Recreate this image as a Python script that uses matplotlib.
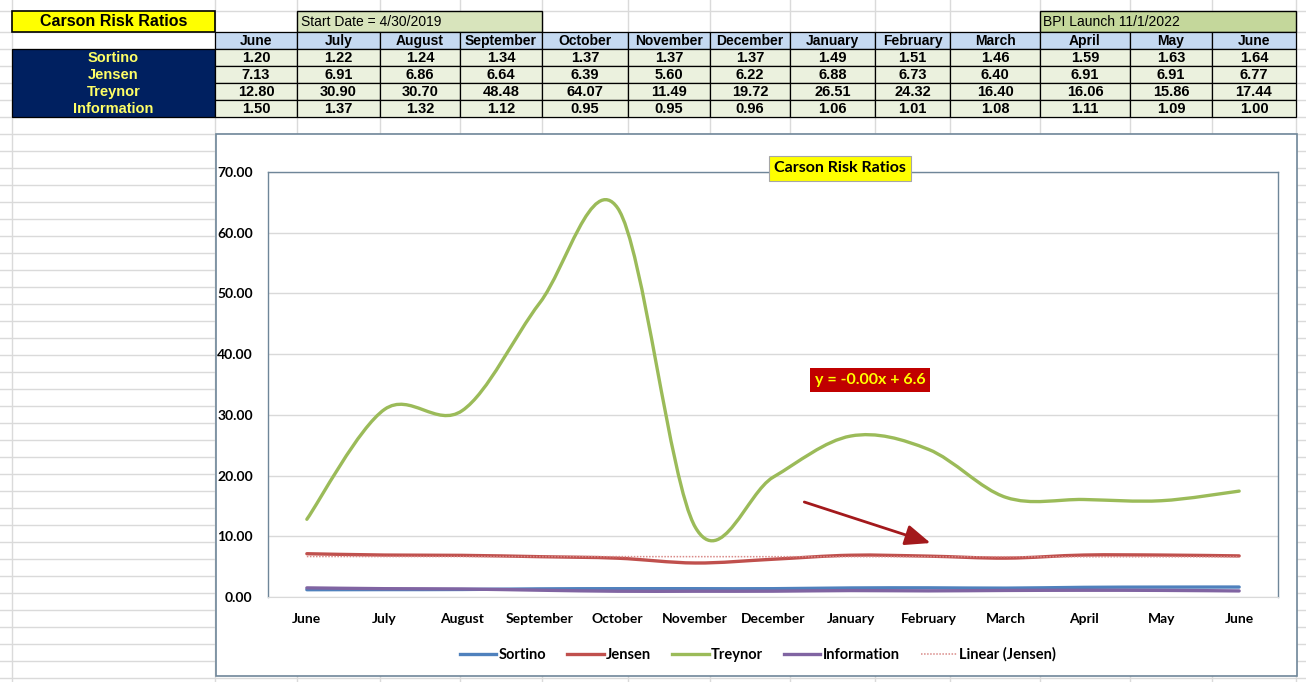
import numpy as np
import matplotlib.pyplot as plt
from matplotlib.patches import Rectangle, PathPatch
from matplotlib.path import Path
from matplotlib.lines import Line2D

# --- Data (Carson risk ratios, June 2019 .. June 2020) ---
months = ["June", "July", "August", "September", "October", "November",
          "December", "January", "February", "March", "April", "May", "June"]
sortino = [1.20, 1.22, 1.24, 1.34, 1.37, 1.37, 1.37, 1.49, 1.51, 1.46, 1.59, 1.63, 1.64]
jensen = [7.13, 6.91, 6.86, 6.64, 6.39, 5.60, 6.22, 6.88, 6.73, 6.40, 6.91, 6.91, 6.77]
treynor = [12.80, 30.90, 30.70, 48.48, 64.07, 11.49, 19.72, 26.51, 24.32, 16.40, 16.06, 15.86, 17.44]
information = [1.50, 1.37, 1.32, 1.12, 0.95, 0.95, 0.96, 1.06, 1.01, 1.08, 1.11, 1.09, 1.00]
ratio_names = ["Sortino", "Jensen", "Treynor", "Information"]
ratio_rows = [sortino, jensen, treynor, information]
trend_label = "y = -0.00x + 6.6"

# --- Colours ---
blue = "#4F81BD"
red = "#C0504D"
green = "#9BBB59"
purple = "#8064A2"
frame = "#6F8699"
cellgrid = "#DADADA"

narrow = ["Liberation Sans Narrow", "Liberation Sans", "DejaVu Sans"]
chartfont = ["Lato", "DejaVu Sans"]

W, H = 1306, 682
fig = plt.figure(figsize=(W / 100, H / 100), dpi=100)
fig.patch.set_facecolor("white")

# =====================================================
# Spreadsheet background (pixel coordinates)
# =====================================================
bg = fig.add_axes([0, 0, 1, 1])
bg.set_xlim(0, W)
bg.set_ylim(H, 0)
bg.axis("off")

col_edges = [12, 215, 297, 380, 460, 542, 628, 710, 790, 875, 950, 1040, 1130, 1212, 1296]
row_edges = [11] + list(np.arange(31.7, H + 17, 17))

for xc in col_edges:
    bg.plot([xc, xc], [0, H], color=cellgrid, lw=1, zorder=0)
for yr in row_edges:
    bg.plot([0, W], [yr, yr], color=cellgrid, lw=1, zorder=0)

r1, r2 = 11, row_edges[1]
rh = 17

# title cell
bg.add_patch(Rectangle((12, r1), 203, r2 - r1, fc="#FFFF00", ec="black", lw=1.2, zorder=2))
bg.text((12 + 215) / 2, (r1 + r2) / 2 + 0.5, "Carson Risk Ratios", ha="center", va="center",
        fontsize=11.5, fontweight="bold", family=["Liberation Sans", "DejaVu Sans"], zorder=3)

# start date / launch cells
bg.add_patch(Rectangle((297, r1), 245, r2 - r1, fc="#D8E4BC", ec="black", lw=1.0, zorder=2))
bg.text(301, (r1 + r2) / 2 + 0.5, "Start Date = 4/30/2019", ha="left", va="center",
        fontsize=10, family=narrow, zorder=3)
bg.add_patch(Rectangle((1040, r1), 256, r2 - r1, fc="#C4D79B", ec="black", lw=1.0, zorder=2))
bg.text(1043, (r1 + r2) / 2 + 0.5, "BPI Launch 11/1/2022", ha="left", va="center",
        fontsize=10, family=narrow, zorder=3)

# header row with month names
for i, m in enumerate(months):
    x0, x1 = col_edges[i + 1], col_edges[i + 2]
    bg.add_patch(Rectangle((x0, r2), x1 - x0, rh, fc="#C5D9F1", ec="black", lw=0.9, zorder=2))
    bg.text((x0 + x1) / 2, r2 + rh / 2 + 0.5, m, ha="center", va="center",
            fontsize=10, fontweight="bold", family=narrow, zorder=3)

# ratio rows
top = r2 + rh
bg.add_patch(Rectangle((12, top), 203, rh * 4, fc="#002060", ec="black", lw=0.9, zorder=2))
for j, (name, vals) in enumerate(zip(ratio_names, ratio_rows)):
    yy = top + j * rh
    bg.text((12 + 215) / 2, yy + rh / 2 + 0.5, name, ha="center", va="center", color="#FFFF66",
            fontsize=10.5, fontweight="bold", family=narrow, zorder=3)
    for i, v in enumerate(vals):
        x0, x1 = col_edges[i + 1], col_edges[i + 2]
        bg.add_patch(Rectangle((x0, yy), x1 - x0, rh, fc="#EBF1DE", ec="black", lw=0.9, zorder=2))
        bg.text((x0 + x1) / 2, yy + rh / 2 + 0.5, f"{v:.2f}", ha="center", va="center",
                fontsize=10.5, fontweight="bold", family=narrow, zorder=3)

# chart area frame
bg.add_patch(Rectangle((216, 134), 1297 - 216, 676 - 134, fc="white", ec=frame, lw=1.2, zorder=4))

# =====================================================
# Chart
# =====================================================
px_l, px_r, px_t, px_b = 268, 1278, 172, 597
ax = fig.add_axes([px_l / W, (H - px_b) / H, (px_r - px_l) / W, (px_b - px_t) / H])
ax.set_zorder(5)
ax.set_facecolor("white")

x = np.arange(len(months))


def smooth_path(xs, ys):
    # Excel style smoothed line: Catmull-Rom segments as cubic Beziers
    pts = np.column_stack([xs, ys]).astype(float)
    n = len(pts)
    verts = [pts[0]]
    codes = [Path.MOVETO]
    for i in range(n - 1):
        p0 = pts[i - 1] if i > 0 else pts[i]
        p1, p2 = pts[i], pts[i + 1]
        p3 = pts[i + 2] if i + 2 < n else pts[i + 1]
        verts += [p1 + (p2 - p0) / 6, p2 - (p3 - p1) / 6, p2]
        codes += [Path.CURVE4] * 3
    return Path(verts, codes)


series = [(sortino, blue), (jensen, red), (treynor, green), (information, purple)]
for vals, c in series:
    ax.add_patch(PathPatch(smooth_path(x, vals), fc="none", ec=c, lw=2.4,
                           capstyle="round", joinstyle="round", zorder=3))

# linear trendline of Jensen
k, b = np.polyfit(x + 1, jensen, 1)
ax.plot(x, k * (x + 1) + b, color="#D98A88", lw=1.1, ls=(0, (1, 1)), zorder=4)

ax.set_xlim(-0.5, len(months) - 0.5)
ax.set_ylim(0, 70)
ax.set_yticks(np.arange(0, 71, 10))
ax.set_yticklabels([f"{v:.2f}" for v in np.arange(0, 71, 10)])
ax.set_xticks(x)
ax.set_xticklabels(months)
ax.tick_params(length=0)
ax.tick_params(axis="y", pad=11)
ax.tick_params(axis="x", pad=11.5)
for lab in ax.get_xticklabels() + ax.get_yticklabels():
    lab.set_fontfamily(chartfont)
    lab.set_fontweight("bold")
    lab.set_fontsize(10)
ax.set_axisbelow(True)
ax.yaxis.grid(True, color="#D9D9D9", lw=1)
for s in ["top", "left", "right"]:
    ax.spines[s].set_color(frame)
    ax.spines[s].set_linewidth(1.0)
ax.spines["bottom"].set_color("#D9D9D9")

# chart title
fig.text(840 / W, 1 - 168.5 / H, "Carson Risk Ratios", ha="center", va="center",
         fontsize=11.5, fontweight="bold", family=chartfont, zorder=10,
         bbox=dict(boxstyle="square,pad=0.32", fc="#FFFF00", ec="#A6A6A6", lw=0.8))

# trend equation and arrow
ax.text(0.596, 0.511, trend_label,
        transform=ax.transAxes, ha="center", va="center", color="#FFFF00",
        fontsize=11.5, fontweight="bold", family=chartfont, zorder=6,
        bbox=dict(boxstyle="square,pad=0.32", fc="#C00000", ec="none"))
ax.annotate("", xy=(0.656, 0.127), xytext=(0.531, 0.2235),
            xycoords="axes fraction", textcoords="axes fraction",
            arrowprops=dict(arrowstyle="-|>,head_length=1.1,head_width=0.45",
                            mutation_scale=14, color="#A3191C", lw=2, shrinkA=0, shrinkB=0))

# legend
handles = [Line2D([], [], color=blue, lw=2.4),
           Line2D([], [], color=red, lw=2.4),
           Line2D([], [], color=green, lw=2.4),
           Line2D([], [], color=purple, lw=2.4),
           Line2D([], [], color="#D98A88", lw=1.1, ls=(0, (1, 1)))]
labels = ratio_names + ["Linear (Jensen)"]
leg = fig.legend(handles, labels, loc="center", bbox_to_anchor=(758 / W, 1 - 654.5 / H),
                 ncol=5, frameon=False, handlelength=2.5, handletextpad=0.15,
                 columnspacing=1.45, prop={"family": chartfont, "weight": "bold", "size": 10.5})
leg.set_zorder(10)

plt.savefig("out.png", dpi=100)
